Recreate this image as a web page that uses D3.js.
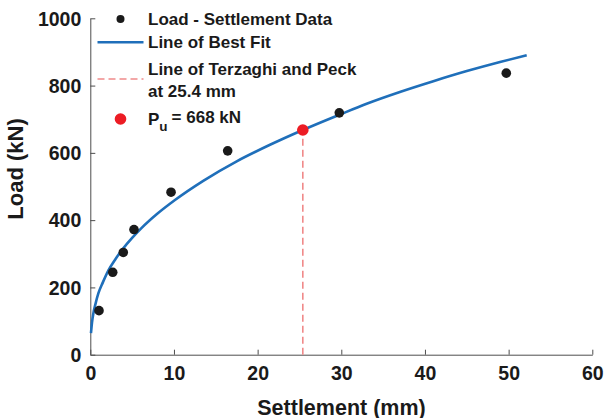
<!DOCTYPE html>
<html>
<head>
<meta charset="utf-8">
<script src="https://cdn.jsdelivr.net/npm/d3@7"></script>
<style>
  html, body { margin: 0; padding: 0; background: #fff; }
  svg { display: block; }
  text { font-family: "Liberation Sans", Arial, Helvetica, sans-serif; font-weight: bold; fill: #1a1a1a; }
</style>
</head>
<body>
<svg id="chart" width="604" height="418"></svg>
<script>
// Measured load-settlement pairs
const settlement = [1.04, 2.68, 3.94, 5.22, 9.65, 16.42, 29.76, 49.72];
const load = [131, 245, 304, 372, 483, 606, 719, 837];

// Best-fit curve sampled along its length
const fitSettlement = [0.08, 0.2, 0.36, 0.6, 0.96, 1.5, 2.15, 3, 3.94, 5, 6.14, 8, 10.12, 13.5, 17.5, 21.48, 25.4, 29.84, 33.03, 37, 41, 45, 48.97, 52.16];
const fitLoad = [64, 95, 122, 149, 182, 215, 250, 284, 316, 347, 377, 419, 460, 517, 575, 624, 668, 714, 746, 781, 813, 843, 870, 890];

// Terzaghi & Peck criterion and resulting ultimate load
const criterionSettlement = 25.4;
const ultimateLoad = 668;

const xTicks = [0, 10, 20, 30, 40, 50, 60];
const yTicks = [0, 200, 400, 600, 800, 1000];

const legendLabels = ["Load - Settlement Data", "Line of Best Fit", ["Line of Terzaghi and Peck", "at 25.4 mm"], "= 668 kN"];

const svg = d3.select("#chart");
const x = d3.scaleLinear().domain([0, 60]).range([90.3, 592.3]);
const y = d3.scaleLinear().domain([0, 1000]).range([354.7, 18.3]);

const axisColor = "#4d4d4d";
const blue = "#1f6fba", pink = "#f08a8a", red = "#ec1c24", ink = "#1a1a1a";

// Axes with inward ticks
const xAxis = svg.append("g").attr("transform", `translate(0,${y(0)})`)
  .call(d3.axisBottom(x).tickValues(xTicks).tickFormat(d3.format("d")).tickSize(-5).tickSizeOuter(0).tickPadding(11));
const yAxis = svg.append("g").attr("transform", `translate(${x(0)},0)`)
  .call(d3.axisLeft(y).tickValues(yTicks).tickFormat(d3.format("d")).tickSize(-5).tickSizeOuter(0).tickPadding(9));
[xAxis, yAxis].forEach(g => {
  g.select(".domain").attr("stroke", axisColor).attr("stroke-width", 1);
  g.selectAll(".tick line").attr("stroke", axisColor).attr("stroke-width", 1);
  g.selectAll(".tick text").attr("font-size", 19.5).attr("font-family", null).attr("fill", ink);
});
xAxis.selectAll(".tick text").attr("dy", "0.71em");
yAxis.selectAll(".tick text").attr("dy", "0.35em");

// Axis titles
svg.append("text").attr("x", 341.5).attr("y", 414.5).attr("text-anchor", "middle")
  .attr("font-size", 21.5).text("Settlement (mm)");
svg.append("text").attr("transform", "translate(23,169) rotate(-90)")
  .attr("text-anchor", "middle").attr("font-size", 22).text("Load (kN)");

// Terzaghi & Peck line
svg.append("line")
  .attr("x1", x(criterionSettlement)).attr("x2", x(criterionSettlement))
  .attr("y1", y(0)).attr("y2", y(ultimateLoad))
  .attr("stroke", pink).attr("stroke-width", 1.6).attr("stroke-dasharray", "7,4");

// Best fit curve
const line = d3.line().x(d => x(d[0])).y(d => y(d[1])).curve(d3.curveMonotoneX);
svg.append("path")
  .datum(fitSettlement.map((s, i) => [s, fitLoad[i]]))
  .attr("d", line).attr("fill", "none").attr("stroke", blue).attr("stroke-width", 2.6);

// Measured points
svg.append("g").selectAll("circle")
  .data(settlement.map((s, i) => [s, load[i]]))
  .join("circle")
  .attr("cx", d => x(d[0])).attr("cy", d => y(d[1])).attr("r", 4.8).attr("fill", ink);

// Ultimate load point
svg.append("circle").attr("cx", x(criterionSettlement)).attr("cy", y(ultimateLoad))
  .attr("r", 5.8).attr("fill", red);

// Legend
const lg = svg.append("g");
const lx = 120.5, tx = 148, fs = 17;
lg.append("circle").attr("cx", lx).attr("cy", 19).attr("r", 4).attr("fill", ink);
lg.append("text").attr("x", tx).attr("y", 19).attr("dy", "0.35em").attr("font-size", fs).text(legendLabels[0]);

lg.append("line").attr("x1", 97.5).attr("x2", 143.5).attr("y1", 42.3).attr("y2", 42.3)
  .attr("stroke", blue).attr("stroke-width", 2.6);
lg.append("text").attr("x", tx).attr("y", 42.3).attr("dy", "0.35em").attr("font-size", fs).text(legendLabels[1]);

lg.append("line").attr("x1", 97.5).attr("x2", 143.5).attr("y1", 79).attr("y2", 79)
  .attr("stroke", pink).attr("stroke-width", 1.6).attr("stroke-dasharray", "7,4");
lg.append("text").attr("x", tx).attr("y", 69.5).attr("dy", "0.35em").attr("font-size", fs).text(legendLabels[2][0]);
lg.append("text").attr("x", tx).attr("y", 91.5).attr("dy", "0.35em").attr("font-size", fs).text(legendLabels[2][1]);

lg.append("circle").attr("cx", lx).attr("cy", 119).attr("r", 5.8).attr("fill", red);
const pu = lg.append("text").attr("x", tx).attr("y", 119).attr("dy", "0.35em").attr("font-size", fs);
pu.append("tspan").text("P");
pu.append("tspan").attr("font-size", 13.5).attr("dy", "0.45em").text("u");
pu.append("tspan").attr("dy", "-0.45em").attr("dx", 4).text(legendLabels[3]);
</script>
</body>
</html>
